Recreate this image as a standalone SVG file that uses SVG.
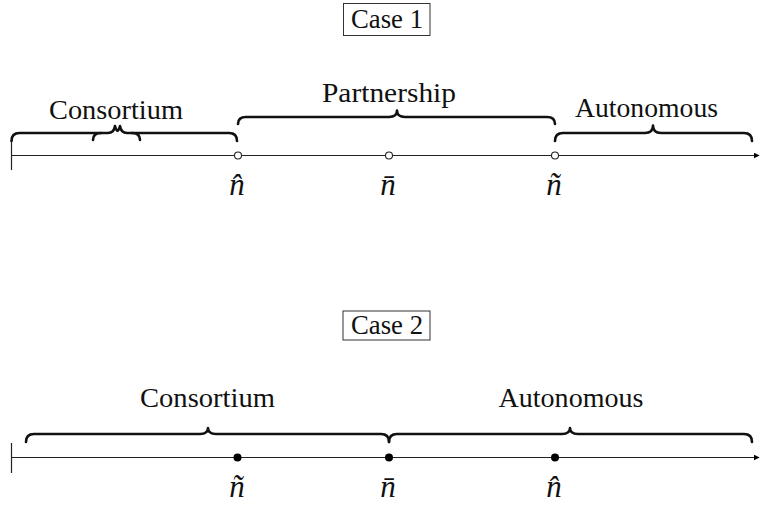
<svg xmlns="http://www.w3.org/2000/svg" width="760" height="505" viewBox="0 0 760 505">
<defs>
<style>
.t{font-size:27px;fill:#111;text-anchor:middle}
.m{font-size:31px;font-style:italic;fill:#111;text-anchor:middle}
.axis{stroke:#222;stroke-width:1.2;fill:none}
.brace{stroke:#111;stroke-width:2.6;fill:none;stroke-linecap:round;stroke-linejoin:round}
.box{fill:#fff;stroke:#333;stroke-width:1}
.open{fill:#fff;stroke:#222;stroke-width:1.1}
.dot{fill:#000}
</style>
<marker id="arr" viewBox="0 0 10 10" refX="9" refY="5" markerWidth="6" markerHeight="6" markerUnits="userSpaceOnUse" orient="auto">
<path d="M0,0 L10,5 L0,10 z" fill="#000"/>
</marker>
</defs>
<rect width="760" height="505" fill="#fff"/>

<g id="case1-title">
<rect class="box" x="343.5" y="3.5" width="86.5" height="32"/>
<text class="t" x="387" y="28" font-family="'Liberation Serif'" textLength="72" lengthAdjust="spacingAndGlyphs">Case 1</text>
</g>

<g id="connectors">
<line class="axis" x1="11.5" y1="155.5" x2="759" y2="155.5" marker-end="url(#arr)"/>
<line class="axis" x1="11.5" y1="140" x2="11.5" y2="170"/>
<line class="axis" x1="11.5" y1="457.5" x2="759" y2="457.5" marker-end="url(#arr)"/>
<line class="axis" x1="11.5" y1="443" x2="11.5" y2="473"/>
</g>

<g id="case1-consortium">
<path class="brace" d="M11.5,141 Q11.5,133 19.5,133 L108,133 Q114,133 115,126 Q116.5,131 117.5,131 Q118.5,131 120,126 Q121,133 127,133 L229,133 Q237,133 237,141"/>
<path class="brace" d="M93,140 Q93,133 101,133"/>
<path class="brace" d="M140,140 Q140,133 132,133"/>
<text class="t" x="116" y="119" font-family="'Liberation Serif'" textLength="134" lengthAdjust="spacingAndGlyphs">Consortium</text>
</g>

<g id="case1-partnership">
<path class="brace" d="M238,124 Q238,117 246,117 L389,117 Q397,117 397,110.5 Q397,117 405,117 L547,117 Q555,117 555,124"/>
<text class="t" x="389" y="102" font-family="'Liberation Serif'" textLength="134" lengthAdjust="spacingAndGlyphs">Partnership</text>
</g>

<g id="case1-autonomous">
<path class="brace" d="M555,141 Q555,133 563,133 L645,133 Q653,133 653,125.5 Q653,133 661,133 L744,133 Q752,133 752,141"/>
<text class="t" x="646.5" y="117" font-family="'Liberation Serif'" textLength="143" lengthAdjust="spacingAndGlyphs">Autonomous</text>
</g>

<g id="case1-nhat">
<circle class="open" cx="238" cy="155.5" r="3.5"/>
<text class="m" x="237" y="195" font-family="'Liberation Serif'">n̂</text>
</g>
<g id="case1-nbar">
<circle class="open" cx="389" cy="155.5" r="3.5"/>
<text class="m" x="388" y="195" font-family="'Liberation Serif'">n̄</text>
</g>
<g id="case1-ntilde">
<circle class="open" cx="555" cy="155.5" r="3.5"/>
<text class="m" x="554" y="195" font-family="'Liberation Serif'">ñ</text>
</g>

<g id="case2-title">
<rect class="box" x="343" y="311" width="87" height="29"/>
<text class="t" x="387" y="334" font-family="'Liberation Serif'" textLength="72" lengthAdjust="spacingAndGlyphs">Case 2</text>
</g>

<g id="case2-consortium">
<path class="brace" d="M26,442 Q26,434 34,434 L200,434 Q208,434 208,428 Q208,434 216,434 L381,434 Q389,434 389,442"/>
<text class="t" x="207.5" y="407" font-family="'Liberation Serif'" textLength="135" lengthAdjust="spacingAndGlyphs">Consortium</text>
</g>

<g id="case2-autonomous">
<path class="brace" d="M389,442 Q389,434 397,434 L562,434 Q570,434 570,428 Q570,434 578,434 L744,434 Q752,434 752,442"/>
<text class="t" x="571" y="407" font-family="'Liberation Serif'" textLength="145" lengthAdjust="spacingAndGlyphs">Autonomous</text>
</g>

<g id="case2-ntilde">
<circle class="dot" cx="237.5" cy="457.5" r="4"/>
<text class="m" x="237" y="497" font-family="'Liberation Serif'">ñ</text>
</g>
<g id="case2-nbar">
<circle class="dot" cx="389" cy="457.5" r="4"/>
<text class="m" x="388" y="497" font-family="'Liberation Serif'">n̄</text>
</g>
<g id="case2-nhat">
<circle class="dot" cx="555" cy="457.5" r="4"/>
<text class="m" x="554" y="497" font-family="'Liberation Serif'">n̂</text>
</g>
</svg>
